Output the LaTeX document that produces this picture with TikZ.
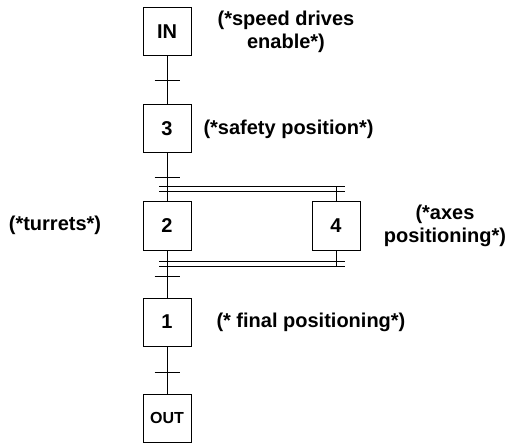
\documentclass[tikz,border=0pt]{standalone}
\usepackage{fontspec}
\setmainfont{Liberation Sans}
\begin{document}
\begin{tikzpicture}[x=1bp,y=-1bp,line width=1bp,
  stepbox/.style={draw,minimum width=48bp,minimum height=48bp,inner sep=0pt,font=\fontsize{20bp}{22bp}\selectfont\bfseries},
  lbl/.style={align=center,inner sep=0pt,font=\fontsize{20bp}{23bp}\selectfont\bfseries}]
\useasboundingbox (0,0) rectangle (522,443);
% steps
\node[stepbox] (IN) at (167,32) {IN};
\node[stepbox] (s3) at (167,129) {3};
\node[stepbox] (s2) at (167,226) {2};
\node[stepbox] (s4) at (336,226) {4};
\node[stepbox] (s1) at (167,322) {1};
\node[stepbox,font=\fontsize{16bp}{18bp}\selectfont\bfseries] (OUT) at (167,418) {OUT};
% labels
\node[lbl] (tIN) at (286,32) {(*speed drives\\enable*)};
\node[lbl,anchor=west] (t3) at (203,129) {(*safety position*)};
\node[lbl] (t2) at (55,225) {(*turrets*)};
\node[lbl] (t4) at (445,226) {(*axes\\positioning*)};
\node[lbl,anchor=west] (t1) at (216,322) {(* final positioning*)};
% coordinates
\coordinate (a4) at (336,187);
\coordinate (b4) at (336,266);
% connectors
\draw (IN.south) -- (s3.north);
\draw (s3.south) -- (s2.north);
\draw (a4) -- (s4.north);
\draw (s4.south) -- (b4);
\draw (s2.south) -- (s1.north);
\draw (s1.south) -- (OUT.north);
% transitions
\draw (154.5,81) -- (179.5,81);
\draw (154.5,178) -- (179.5,178);
\draw (154.5,276) -- (179.5,276);
\draw (154.5,372) -- (179.5,372);
% simultaneous divergence / convergence
\draw (159,187) -- (345,187);
\draw (159,192) -- (345,192);
\draw (159,261) -- (345,261);
\draw (159,266) -- (345,266);
\end{tikzpicture}
\end{document}
